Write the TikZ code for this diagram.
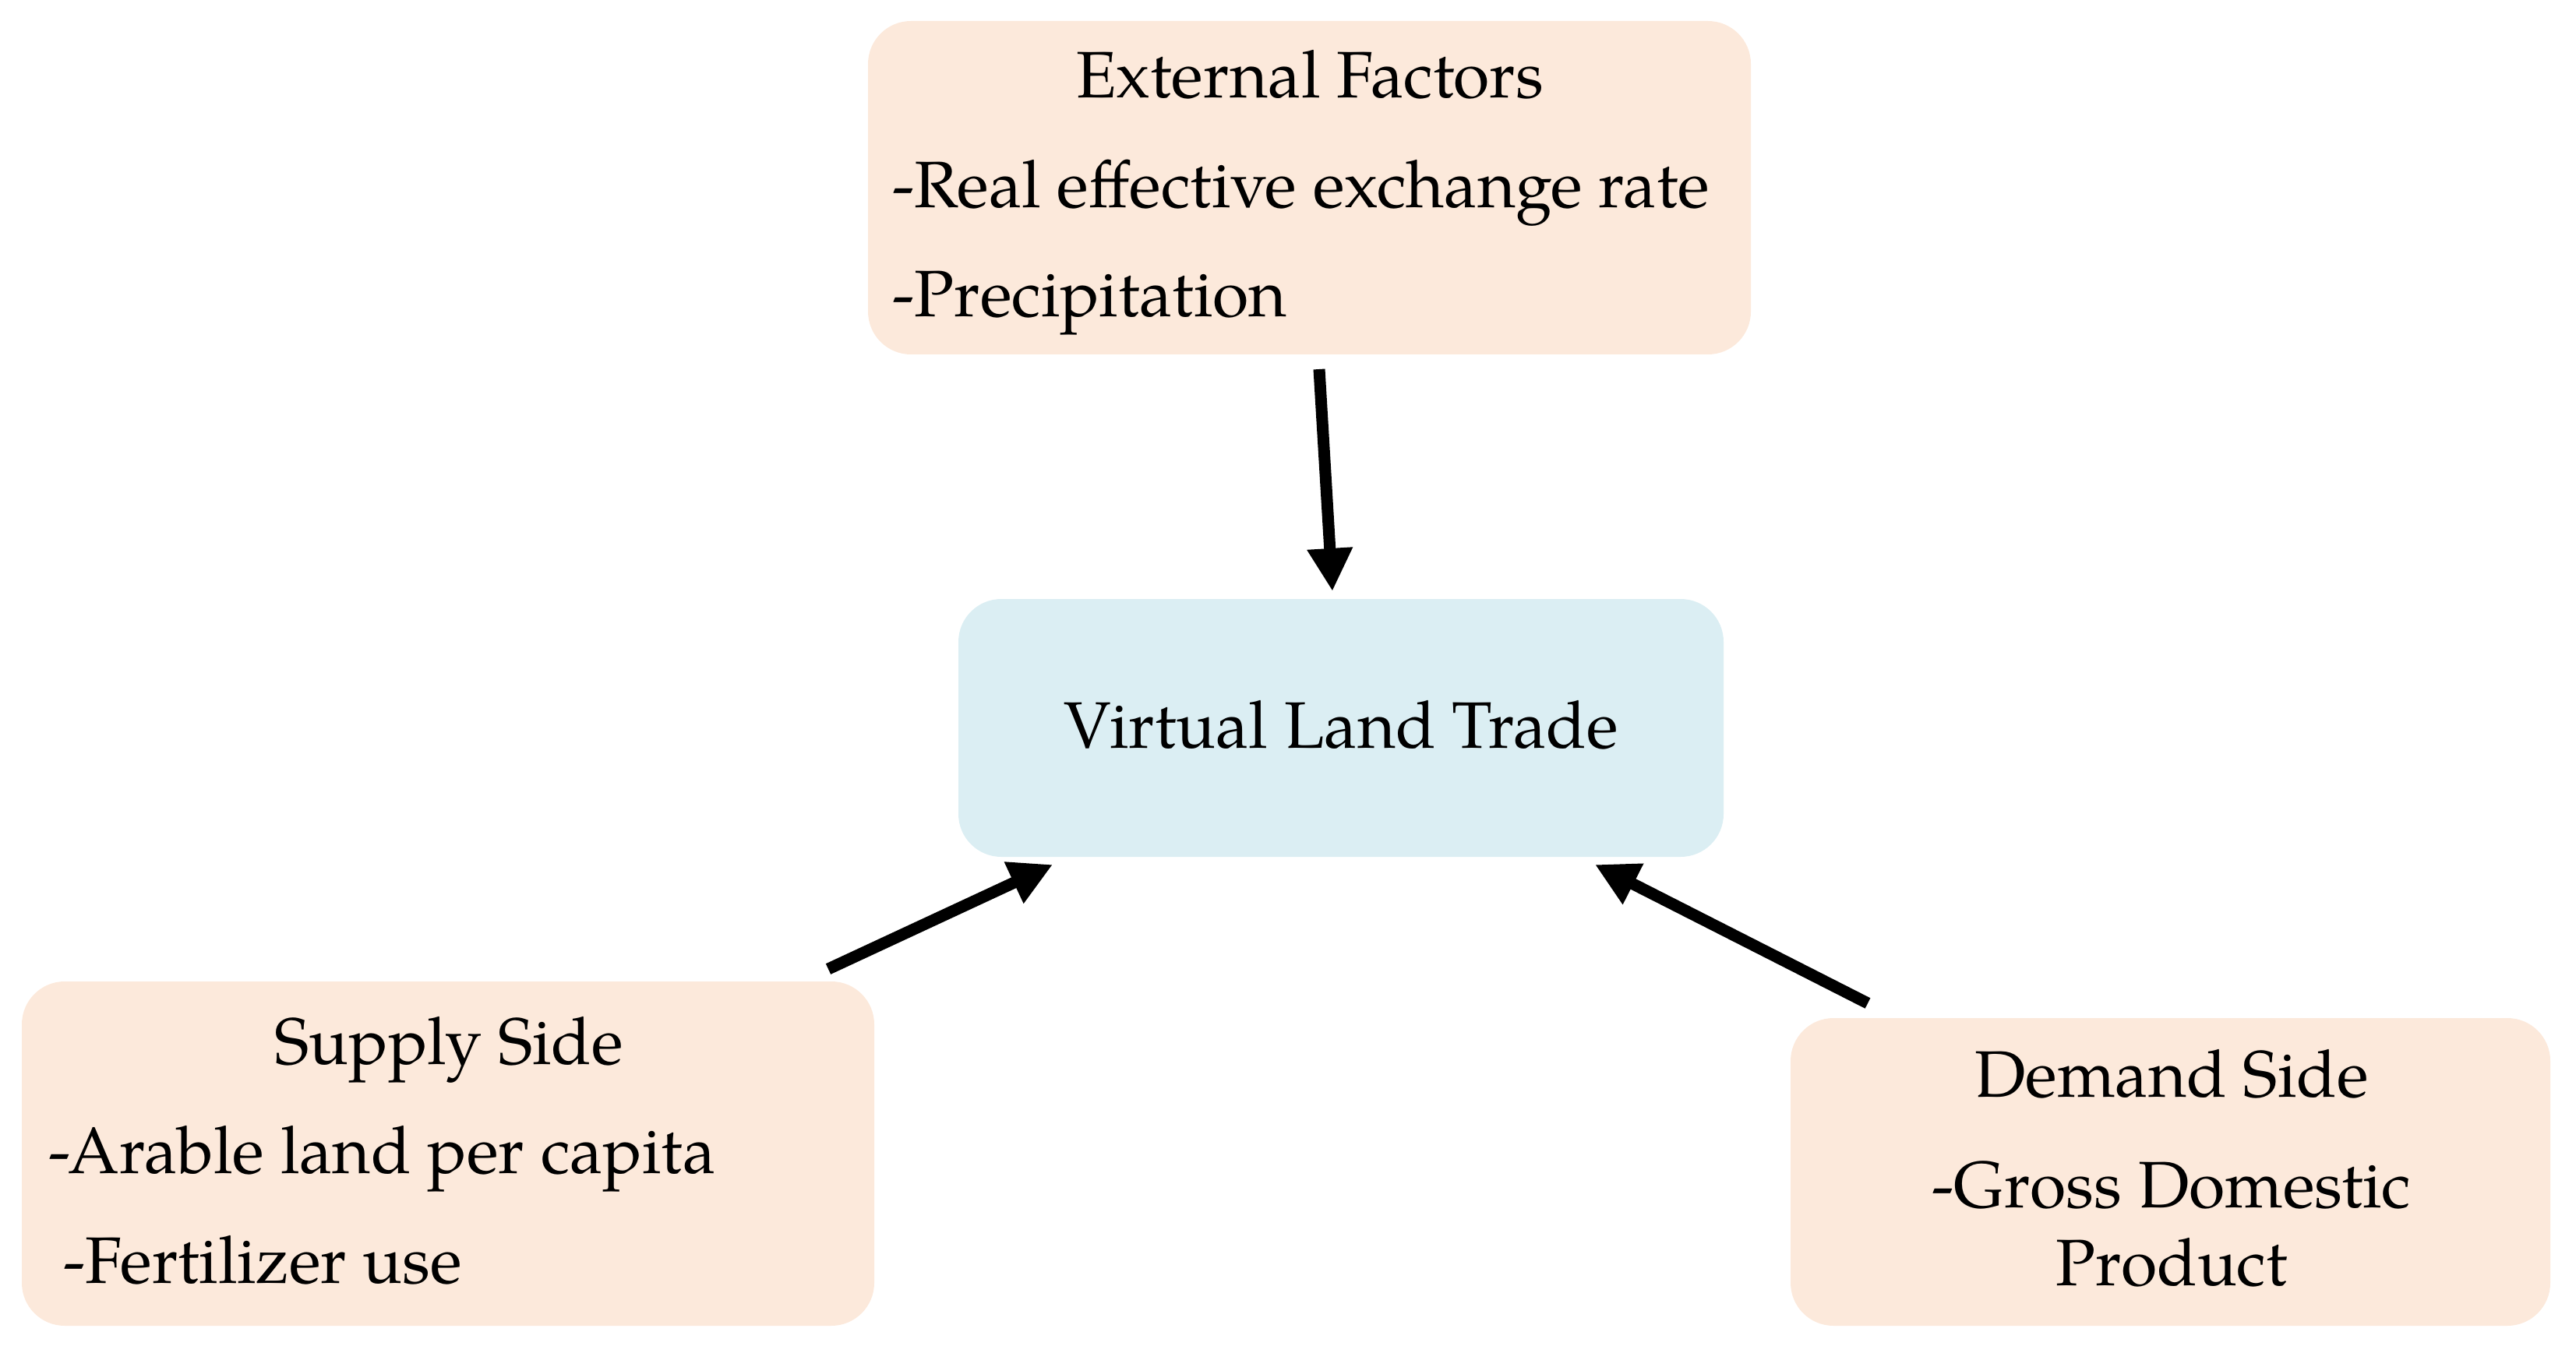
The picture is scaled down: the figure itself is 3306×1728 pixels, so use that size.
\documentclass[tikz,border=0pt]{standalone}
\usepackage{fontspec}
\setmainfont{TeX Gyre Pagella}
\usetikzlibrary{arrows.meta}
\definecolor{peach}{HTML}{FCE9DB}
\definecolor{lblue}{HTML}{DBEEF3}
\tikzset{
  box/.style={rounded corners=0.55cm, draw=none, inner sep=0pt},
  peachbox/.style={box, fill=peach},
  bluebox/.style={box, fill=lblue},
  txt/.style={inner sep=0pt, font=\fontsize{24}{29}\selectfont},
  arr/.style={line width=0.15cm, -{Triangle[length=0.55cm,width=0.55cm]}},
}
\begin{document}
\begin{tikzpicture}[x=0.01cm,y=-0.01cm]
\path[use as bounding box] (0,0) rectangle (3306,1728);
% boxes
\path[peachbox] (1114,27) rectangle (2247,455) node[pos=0.5] (ext) {};
\path[bluebox] (1230,769) rectangle (2212,1100) node[pos=0.5] (vlt) {};
\path[peachbox] (28,1260) rectangle (1122,1702) node[pos=0.5] (sup) {};
\path[peachbox] (2298,1307) rectangle (3273,1702) node[pos=0.5] (dem) {};
% texts
\node[txt, anchor=base] (ext1) at (1681,126) {External Factors};
\node[txt, anchor=base west] (ext2) at (1145,267) {-Real effective exchange rate};
\node[txt, anchor=base west] (ext3) at (1145,407) {-Precipitation};
\node[txt, anchor=base] (vlt1) at (1721,960) {Virtual Land Trade};
\node[txt, anchor=base] (sup1) at (576,1366) {Supply Side};
\node[txt, anchor=base west] (sup2) at (62,1506) {-Arable land per capita};
\node[txt, anchor=base west] (sup3) at (81,1647) {-Fertilizer use};
\node[txt, anchor=base] (dem1) at (2787,1408) {Demand Side};
\node[txt, anchor=base] (dem2) at (2787,1550) {-Gross Domestic};
\node[txt, anchor=base] (dem3) at (2787,1650) {Product};
% arrow ends
\coordinate (a1s) at (1693,474);
\coordinate (a1e) at (1710,759);
\coordinate (a2s) at (1063,1244);
\coordinate (a2e) at (1351,1110);
\coordinate (a3s) at (2397,1288);
\coordinate (a3e) at (2047,1110);
\draw[arr] (a1s) -- (a1e);
\draw[arr] (a2s) -- (a2e);
\draw[arr] (a3s) -- (a3e);
\end{tikzpicture}
\end{document}
